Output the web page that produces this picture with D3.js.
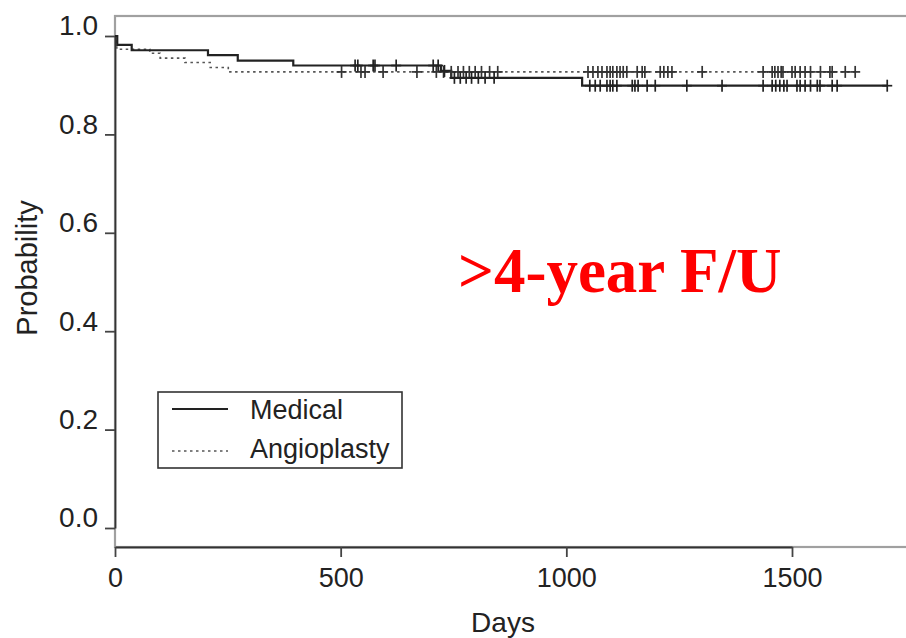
<!DOCTYPE html>
<html>
<head>
<meta charset="utf-8">
<script src="https://cdn.jsdelivr.net/npm/d3@7"></script>
<style>
  html, body { margin: 0; padding: 0; background: #fff; }
  svg { display: block; }
  text { font-family: "Liberation Sans", Arial, Helvetica, sans-serif; fill: #222; }
</style>
</head>
<body>
<svg id="chart" width="906" height="638"></svg>
<script>
// ---- data ----
const medTimes = [0, 5, 37, 206, 272, 395, 722, 745, 1035];
const medSurv  = [1.0, 0.982, 0.971, 0.961, 0.950, 0.940, 0.929, 0.915, 0.899];
const medEnd = 1711;
const medCensor = [532, 538, 572, 576, 623, 705, 716, 730, 752, 765, 778, 790, 805, 820, 840,
  1052, 1064, 1075, 1090, 1097, 1103, 1112, 1146, 1152, 1159, 1179, 1197, 1267, 1345,
  1436, 1456, 1464, 1473, 1482, 1489, 1511, 1518, 1529, 1541, 1556, 1562, 1589, 1600, 1711];

const angTimes = [0, 4, 77, 100, 155, 211, 251];
const angSurv  = [1.0, 0.973, 0.965, 0.955, 0.946, 0.936, 0.927];
const angEnd = 1640;
const angCensor = [502, 545, 554, 594, 669, 712, 728, 745, 760, 772, 785, 798, 812, 830, 848,
  1048, 1059, 1070, 1079, 1090, 1097, 1103, 1112, 1119, 1126, 1134, 1157, 1168, 1174,
  1208, 1216, 1225, 1234, 1301, 1436, 1456, 1462, 1469, 1476, 1480, 1500, 1507, 1518,
  1529, 1541, 1563, 1584, 1589, 1618, 1640];

const xTicks = [0, 500, 1000, 1500];
const yTicks = [0, 0.2, 0.4, 0.6, 0.8, 1.0];
const seriesNames = ["Medical", "Angioplasty"];
const annotation = ">4-year F/U";
const xLabel = "Days";
const yLabel = "Probability";

// ---- layout ----
const svg = d3.select("#chart");
const x = d3.scaleLinear().domain([0, 1500]).range([115, 792]);
const y = d3.scaleLinear().domain([0, 1]).range([528, 36]);
const boxTop = 16, boxBottom = 547, boxLeft = 115, boxRight = 940;

// plot box (gray)
svg.append("rect")
  .attr("x", boxLeft).attr("y", boxTop)
  .attr("width", boxRight - boxLeft).attr("height", boxBottom - boxTop)
  .attr("fill", "none").attr("stroke", "#a0a0a0").attr("stroke-width", 2.2);

// y axis
const yAxis = svg.append("g").attr("transform", `translate(${boxLeft},0)`)
  .call(d3.axisLeft(y).tickValues(yTicks).tickFormat(d3.format(".1f")).tickSize(10).tickSizeOuter(0));
yAxis.select(".domain").attr("stroke", "#333").attr("stroke-width", 1.8);
yAxis.selectAll(".tick line").attr("stroke", "#444").attr("stroke-width", 1.8);
yAxis.selectAll(".tick text")
  .attr("x", -17).attr("y", -11).attr("dy", "0.35em")
  .style("font-size", "28px").style("fill", "#222");

// x axis
const xAxis = svg.append("g").attr("transform", `translate(0,${boxBottom})`)
  .call(d3.axisBottom(x).tickValues(xTicks).tickFormat(d3.format("d")).tickSize(10).tickSizeOuter(0));
xAxis.select(".domain").attr("stroke", "#333").attr("stroke-width", 1.8);
xAxis.selectAll(".tick line").attr("stroke", "#444").attr("stroke-width", 1.8);
xAxis.selectAll(".tick text")
  .attr("y", 21).attr("dy", "0.71em")
  .style("font-size", "27px").style("fill", "#222");
svg.selectAll(".tick text").attr("font-family", null);

// axis titles
svg.append("text").attr("x", 503).attr("y", 632).attr("text-anchor", "middle")
  .style("font-size", "28px").text(xLabel);
svg.append("text").attr("transform", "translate(37,268) rotate(-90)").attr("text-anchor", "middle")
  .style("font-size", "29px").text(yLabel);

// ---- curves ----
function stepData(times, surv, end) {
  const pts = times.map((t, i) => [t, surv[i]]);
  pts.push([end, surv[surv.length - 1]]);
  return pts;
}
function survAt(times, surv, t) {
  let v = surv[0];
  for (let i = 0; i < times.length; i++) if (times[i] <= t) v = surv[i];
  return v;
}
const line = d3.line().x(d => x(d[0])).y(d => y(d[1])).curve(d3.curveStepAfter);

svg.append("path").datum(stepData(angTimes, angSurv, angEnd))
  .attr("d", line).attr("fill", "none").attr("stroke", "#555")
  .attr("stroke-width", 1.6).attr("stroke-dasharray", "2.5,3.5");
svg.append("path").datum(stepData(medTimes, medSurv, medEnd))
  .attr("d", line).attr("fill", "none").attr("stroke", "#222")
  .attr("stroke-width", 2.2);

function drawCensor(times, surv, list, color) {
  const g = svg.append("g").attr("stroke", color).attr("stroke-width", 1.7);
  list.forEach(t => {
    const cx = x(t), cy = y(survAt(times, surv, t));
    g.append("line").attr("x1", cx - 5).attr("x2", cx + 5).attr("y1", cy).attr("y2", cy);
    g.append("line").attr("x1", cx).attr("x2", cx).attr("y1", cy - 6).attr("y2", cy + 6);
  });
}
drawCensor(angTimes, angSurv, angCensor, "#333");
drawCensor(medTimes, medSurv, medCensor, "#222");

// ---- legend ----
const lg = svg.append("g");
lg.append("rect").attr("x", 158).attr("y", 392).attr("width", 244).attr("height", 76)
  .attr("fill", "#fff").attr("stroke", "#333").attr("stroke-width", 1.6);
lg.append("line").attr("x1", 172).attr("x2", 228).attr("y1", 409).attr("y2", 409)
  .attr("stroke", "#222").attr("stroke-width", 2.2);
lg.append("line").attr("x1", 172).attr("x2", 228).attr("y1", 451).attr("y2", 451)
  .attr("stroke", "#555").attr("stroke-width", 1.6).attr("stroke-dasharray", "2.5,3.5");
lg.append("text").attr("x", 250).attr("y", 410).attr("dy", "0.35em")
  .style("font-size", "27px").text(seriesNames[0]);
lg.append("text").attr("x", 250).attr("y", 449).attr("dy", "0.35em")
  .style("font-size", "27px").text(seriesNames[1]);

// ---- annotation ----
svg.append("text").attr("x", 458).attr("y", 292)
  .style("font-family", "'Liberation Serif', 'Times New Roman', serif")
  .style("font-weight", "bold").style("font-size", "63px").style("fill", "#f00")
  .text(annotation);
</script>
</body>
</html>
